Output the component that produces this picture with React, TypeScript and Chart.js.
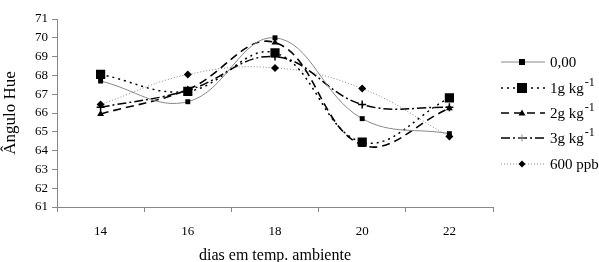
import React, { useEffect, useRef } from "react";
import { Chart, registerables } from "chart.js";
Chart.register(...registerables);

const days = ["14", "16", "18", "20", "22"];
const s000 = [67.7, 66.6, 70.0, 65.7, 64.9];
const s1g = [68.05, 67.15, 69.2, 64.45, 66.8];
const s2g = [65.95, 67.25, 69.75, 64.3, 66.25];
const s3g = [66.3, 67.2, 69.0, 66.45, 66.3];
const s600 = [66.45, 68.05, 68.4, 67.3, 64.75];
const legendMain = ["0,00", "1g kg", "2g kg", "3g kg", "600 ppb"];
const legendSup = ["", "-1", "-1", "-1", ""];

const FONT = "'Liberation Serif', 'Times New Roman', serif";
const W = 599;
const H = 262;

const legendPlugin = {
  id: "customLegend",
  afterDraw(chart: any) {
    const ctx = chart.ctx;
    const ds = chart.data.datasets;
    const x0 = 501, x1 = 545, xm = 522, xt = 550;
    const ys = [62, 88, 113, 138, 164];
    ds.forEach((d: any, i: number) => {
      const y = ys[i];
      ctx.save();
      ctx.strokeStyle = d.borderColor;
      ctx.lineWidth = d.borderWidth;
      ctx.setLineDash(d.borderDash || []);
      ctx.beginPath();
      ctx.moveTo(x0, y);
      ctx.lineTo(x1, y);
      ctx.stroke();
      ctx.setLineDash([]);
      ctx.fillStyle = d.pointBackgroundColor;
      ctx.lineWidth = 1;
      const r = i === 1 ? 5 : d.pointRadius - 0.5;
      const st = d.pointStyle;
      ctx.beginPath();
      if (st === "rect") {
        ctx.rect(xm - r, y - r, 2 * r, 2 * r);
        ctx.fill();
      } else if (st === "triangle") {
        ctx.moveTo(xm, y - r);
        ctx.lineTo(xm + r, y + r * 0.7);
        ctx.lineTo(xm - r, y + r * 0.7);
        ctx.closePath();
        ctx.fill();
      } else if (st === "cross") {
        ctx.strokeStyle = "#888";
        ctx.moveTo(xm - r, y);
        ctx.lineTo(xm + r, y);
        ctx.moveTo(xm, y - r);
        ctx.lineTo(xm, y + r);
        ctx.stroke();
      } else {
        ctx.moveTo(xm, y - r);
        ctx.lineTo(xm + r, y);
        ctx.lineTo(xm, y + r);
        ctx.lineTo(xm - r, y);
        ctx.closePath();
        ctx.fill();
      }
      ctx.fillStyle = "#000";
      ctx.textBaseline = "middle";
      ctx.textAlign = "left";
      ctx.font = `15px ${FONT}`;
      ctx.fillText(legendMain[i], xt, y + 1);
      if (legendSup[i]) {
        const w = ctx.measureText(legendMain[i]).width;
        ctx.font = `12px ${FONT}`;
        ctx.fillText(legendSup[i], xt + w + 1, y - 5);
      }
      ctx.restore();
    });
  },
};

export default function App() {
  const ref = useRef<HTMLCanvasElement>(null);
  useEffect(() => {
    if (!ref.current) return;
    const mk = (
      label: string,
      data: number[],
      color: string,
      width: number,
      dash: number[],
      style: string,
      radius: number
    ) => ({
      label,
      data,
      borderColor: color,
      borderWidth: width,
      borderDash: dash,
      pointStyle: style,
      pointRadius: radius,
      pointBackgroundColor: "#000",
      pointBorderColor: "#000",
      pointBorderWidth: style === "cross" ? 1.5 : 0,
      tension: 0.4,
      fill: false,
    });
    const chart = new Chart(ref.current, {
      type: "line",
      data: {
        labels: days,
        datasets: [
          mk("0,00", s000, "#888888", 1, [], "rect", 3.5),
          mk("1g kg-1", s1g, "#000000", 1.5, [2, 4], "rect", 6.5),
          mk("2g kg-1", s2g, "#000000", 1.6, [8, 5], "triangle", 4),
          mk("3g kg-1", s3g, "#000000", 1.5, [9, 3, 2, 3], "cross", 4),
          mk("600 ppb", s600, "#888888", 1, [1, 2], "rectRot", 4),
        ] as any,
      },
      options: {
        animation: false,
        responsive: false,
        maintainAspectRatio: false,
        layout: { padding: { top: 19, right: 106, left: 0, bottom: 0 } },
        plugins: { legend: { display: false }, tooltip: { enabled: false } },
        scales: {
          x: {
            type: "category",
            offset: true,
            grid: {
              display: true,
              drawOnChartArea: false,
              drawTicks: true,
              tickLength: 5,
              color: "#888",
              offset: true,
            },
            border: { color: "#888", width: 1 },
            ticks: { color: "#000", font: { family: FONT, size: 13 }, padding: 12 },
            title: {
              display: true,
              text: "dias em temp. ambiente",
              color: "#000",
              font: { family: FONT, size: 16 },
              padding: { top: 4, bottom: -3 },
            },
            afterFit: (s: any) => {
              s.height = H - 207;
            },
          },
          y: {
            min: 61,
            max: 71,
            ticks: { stepSize: 1, color: "#000", font: { family: FONT, size: 13 }, padding: 4 },
            grid: {
              display: true,
              drawOnChartArea: false,
              drawTicks: true,
              tickLength: 5,
              color: "#888",
            },
            border: { color: "#888", width: 1 },
            title: {
              display: true,
              text: "Ângulo Hue",
              color: "#000",
              font: { family: FONT, size: 17 },
              padding: 0,
            },
            afterFit: (s: any) => {
              s.width = 57;
            },
          },
        },
      },
      plugins: [legendPlugin],
    } as any);
    return () => chart.destroy();
  }, []);
  return (
    <div style={{ position: "fixed", left: 0, top: 0, width: W, height: H, overflow: "hidden" }}>
      <canvas ref={ref} width={W} height={H} style={{ width: W, height: H, display: "block" }} />
    </div>
  );
}
